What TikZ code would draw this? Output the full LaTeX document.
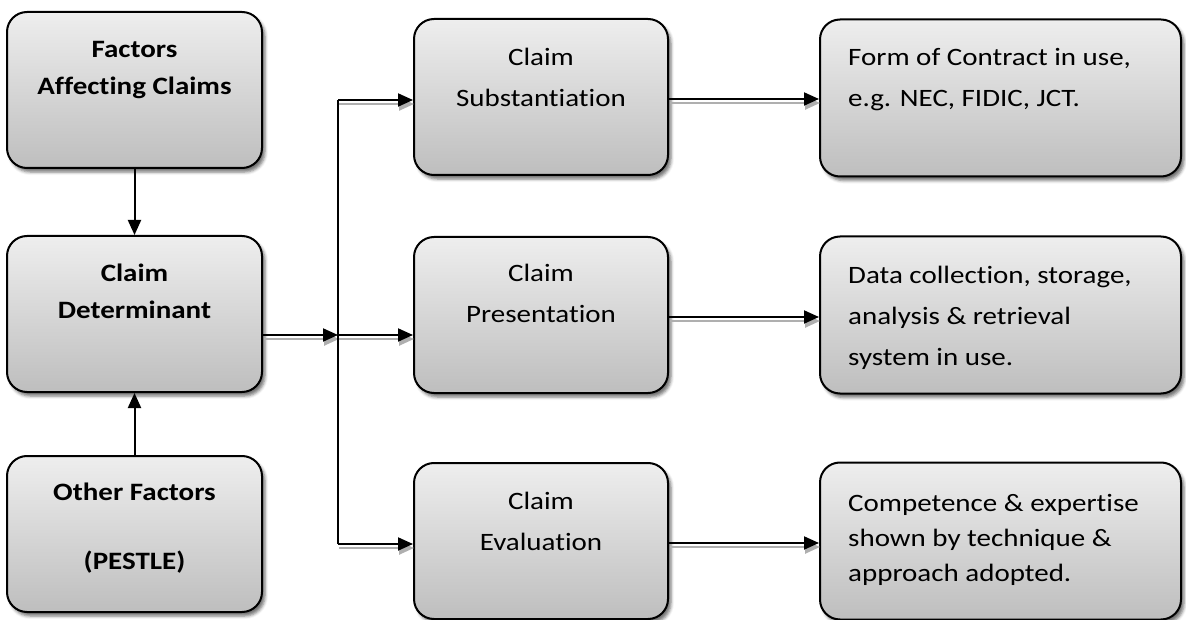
\documentclass[tikz,border=0pt]{standalone}
\usepackage{fontspec}
\setmainfont{Carlito}[FakeStretch=1.16, Ligatures=NoCommon]
\usetikzlibrary{arrows.meta,shadows.blur}

\definecolor{boxtop}{RGB}{238,238,238}
\definecolor{boxbot}{RGB}{190,190,190}
\definecolor{lineshade}{RGB}{175,175,175}

\tikzset{
  panel/.style={draw=black, line width=2pt, rounded corners=20pt,
    top color=boxtop, bottom color=boxbot,
    blur shadow={shadow xshift=3pt, shadow yshift=-4pt,
      shadow blur radius=3pt, shadow opacity=55}},
  leftpanel/.style={panel, minimum width=255pt, minimum height=156pt},
  midpanel/.style={panel, minimum width=254pt, minimum height=156pt},
  rightpanel/.style={panel, minimum width=361pt, minimum height=157pt},
  % the base anchor of a multi-line text sits on its last line
  boldtext/.style={anchor=base, align=center, inner sep=0pt,
    font=\bfseries\fontsize{25}{37}\selectfont},
  midtext/.style={anchor=base, align=center, inner sep=0pt,
    font=\fontsize{25}{41}\selectfont},
  sidetext/.style={anchor=base west, align=left, inner sep=0pt,
    font=\fontsize{25}{41}\selectfont},
  link/.style={line width=2pt, -{Triangle[length=15pt,width=13pt]}},
  linkplain/.style={line width=2pt},
  linkshade/.style={line width=2.5pt, draw=lineshade,
    -{Triangle[length=15pt,width=13pt]},
    transform canvas={shift={(1pt,-4pt)}}},
}

\begin{document}
\begin{tikzpicture}[x=1pt, y=-1pt]
  \useasboundingbox (0,0) rectangle (1186,620);

  % left column
  \node[leftpanel] (fac) at (134.5,90) {};
  \node[leftpanel] (det) at (134.5,314) {};
  \node[leftpanel] (oth) at (134.5,534) {};

  % middle column
  \node[midpanel] (sub)  at (541,97) {};
  \node[midpanel] (pres) at (541,315) {};
  \node[midpanel] (eval) at (541,541) {};

  % right column
  \node[rightpanel] (form) at (1000.5,98) {};
  \node[rightpanel] (data) at (1000.5,315) {};
  \node[rightpanel] (comp) at (1000.5,541) {};

  % texts
  \node[boldtext] (facT) at (134.5,95) {Factors\\Affecting Claims};
  \node[boldtext] (detT) at (134.5,319) {Claim\\Determinant};
  \node[boldtext, font=\bfseries\fontsize{25}{69}\selectfont] (othT) at (134.5,569) {Other Factors\\(PESTLE)};

  \node[midtext] (subT)  at (541,107) {Claim\\Substantiation};
  \node[midtext] (presT) at (541,323) {Claim\\Presentation};
  \node[midtext] (evalT) at (541,550) {Claim\\Evaluation};

  \node[sidetext] (formT) at (848,107) {Form of Contract in use,\\e.g. NEC, FIDIC, JCT.};
  \node[sidetext] (dataT) at (848,365) {Data collection, storage,\\analysis \& retrieval\\system in use.};
  \node[sidetext, font=\fontsize{25}{35}\selectfont] (compT) at (848,581) {Competence \& expertise\\shown by technique \&\\approach adopted.};

  % junction points of the distribution bar
  \coordinate (j)  at (338,335);
  \coordinate (jt) at (338,100);
  \coordinate (jb) at (338,544);

  % shadows under the horizontal connectors
  \draw[linkshade] (det.east |- j) -- (j);
  \draw[linkshade] (jt) -- (sub.west |- jt);
  \draw[linkshade] (j) -- (pres.west |- j);
  \draw[linkshade] (jb) -- (eval.west |- jb);
  \draw[linkshade] ([yshift=-2pt]sub.east) -- ([yshift=-2pt]sub.east -| form.west);
  \draw[linkshade] ([yshift=-2pt]pres.east) -- ([yshift=-2pt]pres.east -| data.west);
  \draw[linkshade] ([yshift=-2pt]eval.east) -- ([yshift=-2pt]eval.east -| comp.west);

  % connectors
  \draw[link] (fac.south) -- (det.north);
  \draw[link] (oth.north) -- (det.south);
  \draw[link] (det.east |- j) -- (j);
  \draw[linkplain] (jt) -- (jb);
  \draw[link] (jt) -- (sub.west |- jt);
  \draw[link] (j) -- (pres.west |- j);
  \draw[link] (jb) -- (eval.west |- jb);
  \draw[link] ([yshift=-2pt]sub.east) -- ([yshift=-2pt]sub.east -| form.west);
  \draw[link] ([yshift=-2pt]pres.east) -- ([yshift=-2pt]pres.east -| data.west);
  \draw[link] ([yshift=-2pt]eval.east) -- ([yshift=-2pt]eval.east -| comp.west);
\end{tikzpicture}
\end{document}
